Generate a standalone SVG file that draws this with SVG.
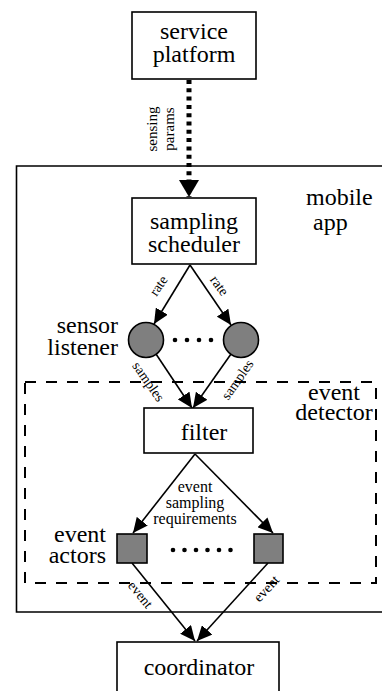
<svg xmlns="http://www.w3.org/2000/svg" width="382" height="691" viewBox="0 0 382 691" font-family="'Liberation Serif', 'Times New Roman', serif">
<style>
text{font-family:'Liberation Serif','Times New Roman',serif;fill:#000}
.big{font-size:24px}
.mid{font-size:16px}
.sm{font-size:14px}
.c{text-anchor:middle}
.e{text-anchor:end}
.box{fill:#fff;stroke:#000;stroke-width:1.6}
.ln{stroke:#000;stroke-width:1.6;fill:none}
.gray{fill:#7f7f7f;stroke:#000;stroke-width:1.6}
</style>
<defs>
<marker id="ah" markerUnits="userSpaceOnUse" markerWidth="16" markerHeight="14" refX="15" refY="7" orient="auto">
<path d="M0,0 L15,7 L0,14 z" fill="#000"/>
</marker>
<marker id="bigah" markerUnits="userSpaceOnUse" markerWidth="18" markerHeight="22" refX="17" refY="10" orient="auto">
<path d="M0,0 L17,10 L0,20 z" fill="#000"/>
</marker>
</defs>
<g id="mobile-app">
<path class="ln" d="M384,166 H16.5 V612 H384"/>
<text class="big" x="306" y="205">mobile</text>
<text class="big" x="313" y="230">app</text>
</g>
<g id="event-detector">
<rect x="25" y="382" width="351" height="201" fill="none" stroke="#000" stroke-width="2" stroke-dasharray="11 10"/>
<text class="big c" x="334" y="400">event</text>
<text class="big c" x="334" y="420">detector</text>
</g>
<g id="connectors">
<line x1="189" y1="80" x2="189" y2="197" style="stroke:#000;stroke-width:5;stroke-dasharray:4 4.3" marker-end="url(#bigah)"/>
<line class="ln" x1="190" y1="265" x2="154" y2="324" marker-end="url(#ah)"/>
<line class="ln" x1="190" y1="265" x2="231" y2="325" marker-end="url(#ah)"/>
<line class="ln" x1="156" y1="354" x2="192" y2="408" marker-end="url(#ah)"/>
<line class="ln" x1="231" y1="354" x2="193" y2="408" marker-end="url(#ah)"/>
<line class="ln" x1="195" y1="454" x2="133" y2="533" marker-end="url(#ah)"/>
<line class="ln" x1="195" y1="454" x2="273" y2="533" marker-end="url(#ah)"/>
<line class="ln" x1="132" y1="563" x2="195" y2="641" marker-end="url(#ah)"/>
<line class="ln" x1="268" y1="563" x2="197" y2="641" marker-end="url(#ah)"/>
<g transform="translate(157,129) rotate(-90)"><text class="c" style="font-size:15px" x="0" y="0">sensing</text></g>
<g transform="translate(174,129) rotate(-90)"><text class="c" style="font-size:15px" x="0" y="0">params</text></g>
<g transform="translate(159,286) rotate(-56)"><text class="sm c" x="0" y="4">rate</text></g>
<g transform="translate(219,286) rotate(54)"><text class="sm c" x="0" y="4">rate</text></g>
<g transform="translate(148,382) rotate(55)"><text class="sm c" x="0" y="4">samples</text></g>
<g transform="translate(238,380) rotate(-55)"><text class="sm c" x="0" y="4">samples</text></g>
<g transform="translate(140,595) rotate(51)"><text class="sm c" x="0" y="4">event</text></g>
<g transform="translate(267,589) rotate(-47)"><text class="sm c" x="0" y="4">event</text></g>
<text class="mid c" x="195" y="492">event</text>
<text class="mid c" x="195" y="508">sampling</text>
<text class="mid c" x="195" y="524">requirements</text>
</g>
<g id="service-platform">
<rect class="box" x="132" y="12" width="124" height="67"/>
<text class="big c" x="194" y="39">service</text>
<text class="big c" x="194" y="62">platform</text>
</g>
<g id="sampling-scheduler">
<rect class="box" x="132" y="198" width="124" height="66"/>
<text class="big c" x="194" y="229">sampling</text>
<text class="big c" x="194" y="252">scheduler</text>
</g>
<g id="sensor-listeners">
<circle class="gray" cx="146" cy="340" r="17.5"/>
<circle class="gray" cx="241" cy="340" r="17.5"/>
<g fill="#000"><circle cx="175" cy="340" r="2.3"/><circle cx="187" cy="340" r="2.3"/><circle cx="199" cy="340" r="2.3"/><circle cx="211" cy="340" r="2.3"/></g>
<text class="big e" x="118" y="333">sensor</text>
<text class="big e" x="118" y="355">listener</text>
</g>
<g id="filter">
<rect class="box" x="144" y="408" width="109" height="45"/>
<text class="big c" x="204" y="440">filter</text>
</g>
<g id="event-actors">
<rect class="gray" x="117" y="534" width="30" height="29"/>
<rect class="gray" x="254" y="534" width="29" height="29"/>
<g fill="#000"><circle cx="173" cy="550" r="2.3"/><circle cx="184.5" cy="550" r="2.3"/><circle cx="196" cy="550" r="2.3"/><circle cx="207.5" cy="550" r="2.3"/><circle cx="219" cy="550" r="2.3"/><circle cx="230.5" cy="550" r="2.3"/></g>
<text class="big e" x="106" y="542">event</text>
<text class="big e" x="106" y="563">actors</text>
</g>
<g id="coordinator">
<rect class="box" x="117" y="642" width="162" height="60"/>
<text class="big c" x="199" y="675">coordinator</text>
</g>
</svg>
